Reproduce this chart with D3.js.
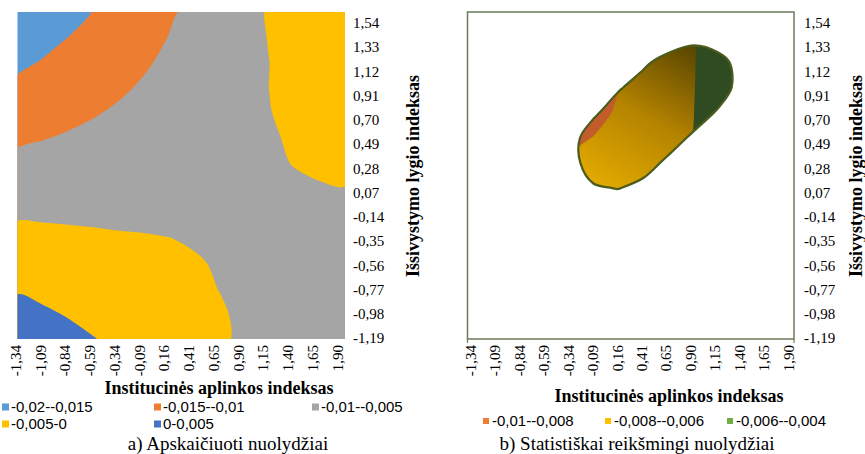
<!DOCTYPE html>
<html>
<head>
<meta charset="utf-8">
<script src="https://cdn.jsdelivr.net/npm/d3@7"></script>
<style>
  body { margin: 0; background: #fff; }
</style>
</head>
<body>
<svg id="chart" width="865" height="454"></svg>
<script>
// Category labels of both axes (y from bottom to top)
var xLabels = ["-1,34","-1,09","-0,84","-0,59","-0,34","-0,09","0,16","0,41","0,65","0,90","1,15","1,40","1,65","1,90"];
var yLabels = ["-1,19","-0,98","-0,77","-0,56","-0,35","-0,14","0,07","0,28","0,49","0,70","0,91","1,12","1,33","1,54"];

// Slope values, one row per y category (bottom row first), one column per x category
var slope = [
  [ 0.00305, 0.00208, 0.00111, 0.00014,-0.00083,-0.00180,-0.00277,-0.00374,-0.00465,-0.00540,-0.00665,-0.00762,-0.00859,-0.00956],
  [ 0.00133, 0.00055,-0.00024,-0.00102,-0.00180,-0.00259,-0.00337,-0.00415,-0.00475,-0.00540,-0.00650,-0.00729,-0.00807,-0.00885],
  [-0.00039,-0.00098,-0.00158,-0.00218,-0.00277,-0.00337,-0.00397,-0.00456,-0.00503,-0.00555,-0.00636,-0.00695,-0.00755,-0.00815],
  [-0.00210,-0.00251,-0.00292,-0.00333,-0.00374,-0.00415,-0.00456,-0.00480,-0.00518,-0.00580,-0.00621,-0.00662,-0.00703,-0.00744],
  [-0.00382,-0.00404,-0.00427,-0.00449,-0.00471,-0.00480,-0.00496,-0.00520,-0.00561,-0.00583,-0.00606,-0.00628,-0.00650,-0.00673],
  [-0.00553,-0.00557,-0.00561,-0.00565,-0.00568,-0.00572,-0.00576,-0.00580,-0.00583,-0.00587,-0.00591,-0.00594,-0.00598,-0.00602],
  [-0.00725,-0.00710,-0.00695,-0.00680,-0.00665,-0.00650,-0.00636,-0.00621,-0.00606,-0.00591,-0.00576,-0.00561,-0.00520,-0.00505],
  [-0.00897,-0.00863,-0.00830,-0.00796,-0.00762,-0.00729,-0.00695,-0.00662,-0.00628,-0.00594,-0.00561,-0.00485,-0.00450,-0.00420],
  [-0.01068,-0.01016,-0.00964,-0.00912,-0.00859,-0.00795,-0.00755,-0.00703,-0.00650,-0.00598,-0.00525,-0.00470,-0.00442,-0.00389],
  [-0.01240,-0.01169,-0.01098,-0.01027,-0.00956,-0.00886,-0.00770,-0.00744,-0.00673,-0.00602,-0.00507,-0.00440,-0.00389,-0.00318],
  [-0.01412,-0.01322,-0.01233,-0.01143,-0.01053,-0.00964,-0.00810,-0.00760,-0.00695,-0.00606,-0.00498,-0.00427,-0.00337,-0.00247],
  [-0.01583,-0.01475,-0.01367,-0.01259,-0.01150,-0.01042,-0.00934,-0.00790,-0.00718,-0.00609,-0.00501,-0.00393,-0.00285,-0.00177],
  [-0.01755,-0.01628,-0.01501,-0.01374,-0.01247,-0.01121,-0.00994,-0.00867,-0.00740,-0.00613,-0.00486,-0.00359,-0.00233,-0.00106],
  [-0.01927,-0.01781,-0.01636,-0.01490,-0.01344,-0.01199,-0.01053,-0.00908,-0.00762,-0.00617,-0.00471,-0.00326,-0.00180,-0.00035]
];

// |t| of the slope on the same grid; significant where above tCrit
var tValue = [
  [0.1,0.1,0.1,0.1,0.1,0.1,0.1,0.1,0.1,0.1,0.1,0.1,0.1,0.1],
  [0.1,0.1,0.1,0.1,0.1,0.1,0.1,0.1,0.1,0.1,0.1,0.1,0.1,0.1],
  [0.1,0.1,0.1,0.1,0.1,0.1,0.1,0.1,0.1,0.1,0.1,0.1,0.1,0.1],
  [0.1,0.1,0.1,0.1,0.1,0.1,0.1,0.1,0.1,0.1,0.1,0.1,0.1,0.1],
  [0.1,0.1,0.1,0.1,0.1,0.29,0.39,0.26,0.1,0.1,0.1,0.1,0.1,0.1],
  [0.1,0.1,0.1,0.1,0.66,1.05,1.19,1.02,0.6,0.1,0.1,0.1,0.1,0.1],
  [0.1,0.1,0.1,0.55,1.23,1.87,1.99,1.72,1.19,0.65,0.1,0.1,0.1,0.1],
  [0.1,0.1,0.1,0.81,1.59,2.34,2.79,2.32,1.78,1.23,0.68,0.14,0.1,0.1],
  [0.1,0.1,0.1,0.81,1.6,2.35,2.95,2.91,2.36,1.81,1.27,0.72,0.14,0.1],
  [0.1,0.1,0.1,0.56,1.24,1.82,2.36,2.91,2.95,2.4,1.86,1.27,0.57,0.1],
  [0.1,0.1,0.1,0.12,0.69,1.23,1.87,2.32,2.87,2.98,2.36,1.59,0.8,0.1],
  [0.1,0.1,0.1,0.1,0.1,0.65,1.19,1.81,2.29,2.71,2.28,1.54,0.77,0.1],
  [0.1,0.1,0.1,0.1,0.1,0.1,0.61,1.15,1.4,1.6,1.45,1.16,0.49,0.1],
  [0.1,0.1,0.1,0.1,0.1,0.1,0.1,0.56,0.96,1.11,0.97,0.58,0.1,0.1]
];
var tCrit = 1.96;

// Bands of panel a) and panel b)
var thresholdsA = [-0.02, -0.015, -0.01, -0.005, 0];
var legendA = ["-0,02--0,015", "-0,015--0,01", "-0,01--0,005", "-0,005-0", "0-0,005"];
var thresholdsB = [-0.01, -0.008, -0.006];
var legendB = ["-0,01--0,008", "-0,008--0,006", "-0,006--0,004"];

var xTitle = "Institucinės aplinkos indeksas";
var yTitle = "Išsivystymo lygio indeksas";
var captionA = "a) Apskaičiuoti nuolydžiai";
var captionB = "b) Statistiškai reikšmingi nuolydžiai";

// Styles
var colorsA = ["#5b9bd5", "#ed7d31", "#a5a5a5", "#ffc000", "#4472c4"];
var fillsB = ["#c25d2b", "url(#goldGrad)", "#2f4b22"];
var legendColorsB = ["#ed7d31", "#ffc000", "#70ad47"];
var serif = "'Liberation Serif', 'Times New Roman', serif";
var sans = "'Liberation Sans', Arial, sans-serif";

var svg = d3.select("#chart");
var defs = svg.append("defs");

var plotA = {x0: 17.5, x1: 345, y0: 12, y1: 339};
var plotB = {x0: 467.5, x1: 794, y0: 12, y1: 339};

var n = xLabels.length, m = yLabels.length;
var contours = d3.contours().size([n, m]);
var slopeFlat = d3.merge(slope);
var tFlat = d3.merge(tValue);

// grid coordinates -> pixels (sample k sits at grid coordinate k + 0.5),
// rings drawn as smooth closed curves like the surface chart does
var smoothLine = d3.line().curve(d3.curveCatmullRomClosed.alpha(0.5));
function gridPath(p) {
  var sx = d3.scaleLinear().domain([0.5, n - 0.5]).range([p.x0, p.x1]);
  var sy = d3.scaleLinear().domain([0.5, m - 0.5]).range([p.y1, p.y0]);
  var f = function(geom) {
    return geom.coordinates.map(function(poly) {
      return poly.map(function(ring) {
        return smoothLine(ring.slice(0, -1).map(function(c) { return [sx(c[0]), sy(c[1])]; }));
      }).join("");
    }).join("");
  };
  f.bounds = function(geom) {
    var pts = d3.merge(d3.merge(geom.coordinates));
    return [[sx(d3.min(pts, function(c) { return c[0]; })), sy(d3.max(pts, function(c) { return c[1]; }))],
            [sx(d3.max(pts, function(c) { return c[0]; })), sy(d3.min(pts, function(c) { return c[1]; }))]];
  };
  return f;
}

function clipRect(id, p) {
  defs.append("clipPath").attr("id", id).append("rect")
    .attr("x", p.x0).attr("y", p.y0)
    .attr("width", p.x1 - p.x0).attr("height", p.y1 - p.y0);
}

// ---------- panel a) ----------
var pathA = gridPath(plotA);
clipRect("clipA", plotA);
svg.append("g").attr("clip-path", "url(#clipA)")
  .selectAll("path")
  .data(contours.thresholds(thresholdsA)(slopeFlat))
  .join("path")
    .attr("d", pathA)
    .attr("fill", function(d, i) { return colorsA[i]; });

// ---------- panel b) ----------
var pathB = gridPath(plotB);
var blob = contours.contour(tFlat, tCrit);
var bb = pathB.bounds(blob);

var grad = defs.append("linearGradient").attr("id", "goldGrad")
  .attr("gradientUnits", "userSpaceOnUse")
  .attr("x1", bb[0][0] + (bb[1][0] - bb[0][0]) * 0.15).attr("y1", bb[1][1])
  .attr("x2", bb[0][0] + (bb[1][0] - bb[0][0]) * 0.7).attr("y2", bb[0][1]);
grad.append("stop").attr("offset", 0).attr("stop-color", "#e3aa00");
grad.append("stop").attr("offset", 0.5).attr("stop-color", "#b58400");
grad.append("stop").attr("offset", 1).attr("stop-color", "#5c4700");

defs.append("clipPath").attr("id", "clipBlob").append("path").attr("d", pathB(blob));

svg.append("rect")
  .attr("x", plotB.x0).attr("y", plotB.y0)
  .attr("width", plotB.x1 - plotB.x0).attr("height", plotB.y1 - plotB.y0)
  .attr("fill", "#fff").attr("stroke", "#6b7a5a").attr("stroke-width", 1.5);

svg.append("g").attr("clip-path", "url(#clipBlob)")
  .selectAll("path")
  .data(contours.thresholds(thresholdsB)(slopeFlat))
  .join("path")
    .attr("d", pathB)
    .attr("fill", function(d, i) { return fillsB[i]; });

svg.append("path")
  .attr("d", pathB(blob))
  .attr("fill", "none")
  .attr("stroke", "#4b5c1c")
  .attr("stroke-width", 2.2);

// small corner ticks under the box
[plotB.x0, plotB.x1].forEach(function(x) {
  svg.append("line").attr("x1", x).attr("x2", x).attr("y1", plotB.y1).attr("y2", plotB.y1 + 4)
    .attr("stroke", "#6b7a5a").attr("stroke-width", 1.2);
});

// ---------- axes ----------
function drawAxes(p, xRange, yAxisX, yTitleX, xTitleX, xTitleY) {
  var xs = d3.scalePoint().domain(xLabels).range(xRange);
  var ys = d3.scalePoint().domain(yLabels).range([338, 22.7]);

  var gx = svg.append("g")
    .attr("transform", "translate(0," + p.y1 + ")")
    .call(d3.axisBottom(xs).tickSize(0).tickPadding(0));
  gx.select(".domain").remove();
  gx.attr("font-family", serif).attr("font-size", 15);
  gx.selectAll("text")
    .attr("transform", "rotate(-90)")
    .attr("x", -6).attr("y", 0).attr("dy", "0.35em")
    .attr("text-anchor", "end").attr("fill", "#000");

  var gy = svg.append("g")
    .attr("transform", "translate(" + yAxisX + ",0)")
    .call(d3.axisRight(ys).tickSize(0).tickPadding(0));
  gy.select(".domain").remove();
  gy.attr("font-family", serif).attr("font-size", 15);
  gy.selectAll("text").attr("fill", "#000");

  svg.append("text")
    .attr("transform", "translate(" + yTitleX + ",176) rotate(-90)")
    .attr("text-anchor", "middle").attr("dy", "0.35em")
    .style("font-family", serif).style("font-size", "18px").style("font-weight", "bold")
    .text(yTitle);

  svg.append("text")
    .attr("x", xTitleX).attr("y", xTitleY)
    .attr("text-anchor", "middle")
    .style("font-family", serif).style("font-size", "18px").style("font-weight", "bold")
    .text(xTitle);
}
drawAxes(plotA, [15, 337], 353, 413, 219, 394);
drawAxes(plotB, [470, 788], 804, 856, 669, 402);

// ---------- legends ----------
var colA = [2, 154, 312], rowA = [407, 424];
var legA = svg.append("g").selectAll("g").data(legendA).join("g")
  .attr("transform", function(d, i) { return "translate(" + colA[i % 3] + "," + rowA[Math.floor(i / 3)] + ")"; });
legA.append("rect").attr("x", 0).attr("y", -3.5).attr("width", 7).attr("height", 7)
  .attr("fill", function(d, i) { return colorsA[i]; });
legA.append("text").attr("x", 9).attr("dy", "0.35em")
  .style("font-family", sans).style("font-size", "15px")
  .text(function(d) { return d; });

var colB = [483, 605, 727];
var legB = svg.append("g").selectAll("g").data(legendB).join("g")
  .attr("transform", function(d, i) { return "translate(" + colB[i] + ",421)"; });
legB.append("rect").attr("x", 0).attr("y", -3).attr("width", 6).attr("height", 6)
  .attr("fill", function(d, i) { return legendColorsB[i]; });
legB.append("text").attr("x", 9).attr("dy", "0.35em")
  .style("font-family", sans).style("font-size", "15px")
  .text(function(d) { return d; });

// ---------- captions ----------
svg.append("text").attr("x", 228).attr("y", 450).attr("text-anchor", "middle")
  .style("font-family", serif).style("font-size", "19px").text(captionA);
svg.append("text").attr("x", 637).attr("y", 450).attr("text-anchor", "middle")
  .style("font-family", serif).style("font-size", "19px").text(captionB);
</script>
</body>
</html>
